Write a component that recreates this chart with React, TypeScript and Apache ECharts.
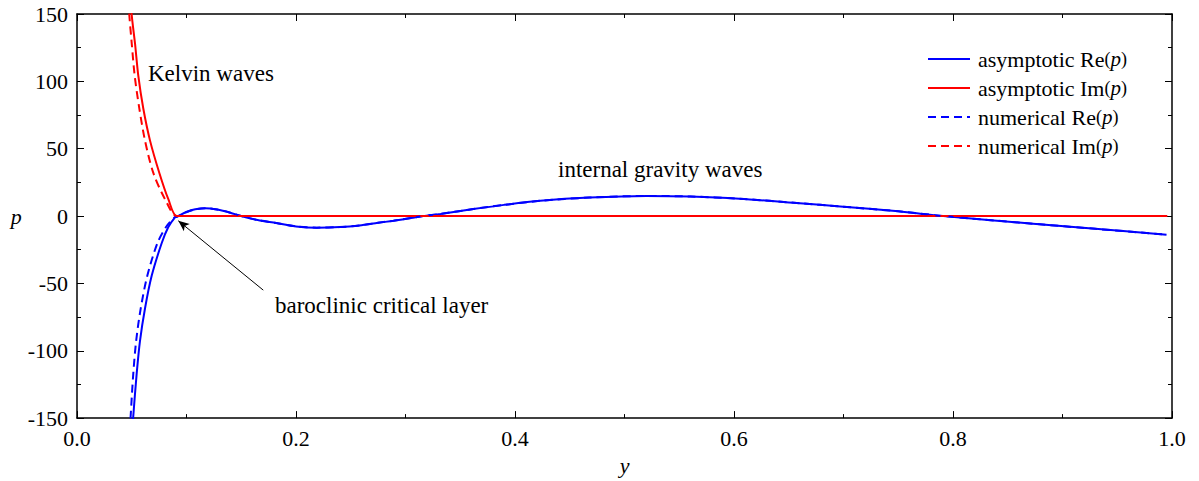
import React, { useEffect, useRef } from "react";
import * as echarts from "echarts";

const xTicks = [0, 0.2, 0.4, 0.6, 0.8, 1.0];
const yTicks = [-150, -100, -50, 0, 50, 100, 150];

// shared oscillating part of Re(p) (internal gravity waves)
const oscX = [0.091, 0.1, 0.108, 0.117, 0.128, 0.14, 0.15, 0.165, 0.182, 0.2, 0.219, 0.24, 0.258, 0.275, 0.289, 0.305, 0.316, 0.332, 0.362, 0.39, 0.423, 0.468, 0.52, 0.56, 0.605, 0.66, 0.697, 0.75, 0.791, 0.873, 0.93, 0.995];
const oscY = [-0.5, 3.0, 5.0, 5.8, 4.8, 2.5, 0, -3.0, -5.2, -7.7, -8.6, -8.2, -7.0, -5.0, -3.5, -1.5, 0, 1.6, 5.2, 8.3, 11.3, 13.7, 14.9, 14.5, 12.9, 9.5, 7.1, 3.5, 0, -5.7, -9.5, -13.8];

// asymptotic Re(p), steep part
const reAsymX = [0.0505, 0.0514, 0.0545, 0.0575, 0.0621, 0.0682, 0.0773, 0.0834, 0.0895];
const reAsymY = [-160, -148.5, -117, -92.8, -68.6, -44.4, -20.2, -8.1, -0.9];

// numerical Re(p), steep part
const reNumX = [0.0483, 0.049, 0.0514, 0.054, 0.0582, 0.0642, 0.0734, 0.0813, 0.089];
const reNumY = [-160, -148.5, -117, -92.8, -68.6, -44.4, -20.2, -8.1, -1.0];

// asymptotic Im(p)
const imAsymX = [0.0493, 0.05, 0.053, 0.056, 0.0605, 0.0667, 0.0752, 0.0834, 0.091, 0.1, 0.995];
const imAsymY = [160, 149, 128, 104, 80, 56, 32, 12.5, 0, 0, 0];

// numerical Im(p)
const imNumX = [0.047, 0.0477, 0.05, 0.0527, 0.0569, 0.0621, 0.0697, 0.0804, 0.091, 0.1, 0.995];
const imNumY = [160, 150, 128, 104, 80, 56, 32, 12.5, 0, 0, 0];

// annotation arrow (tail near label, head at the critical layer), data coordinates
const arrowFrom = [0.1701, -55];
const arrowTo = [0.0925, -3.5];

const seriesNames = ["asymptotic Re(p)", "asymptotic Im(p)", "numerical Re(p)", "numerical Im(p)"];

const zip = (xs: number[], ys: number[]) => xs.map((x, i) => [x, ys[i]]);

const FONT = "Liberation Serif";

export default function App() {
  const ref = useRef<HTMLDivElement>(null);
  useEffect(() => {
    if (!ref.current) return;
    const chart = echarts.init(ref.current, undefined, { renderer: "svg" });
    const axisCommon = {
      type: "value" as const,
      axisLine: { show: true, onZero: false, lineStyle: { color: "#000", width: 1.5 } },
      axisTick: { show: true, inside: true, length: 7, lineStyle: { color: "#000", width: 1 } },
      minorTick: { show: true, splitNumber: 2, length: 4, lineStyle: { color: "#000", width: 1 } },
      splitLine: { show: false },
    };
    const reData = (x: number[], y: number[]) => zip(x, y).concat(zip(oscX, oscY).slice(x[x.length - 1] < oscX[0] ? 0 : 1));
    const lineSeries = (name: string, data: number[][], color: string, dashed: boolean) => ({
      name,
      type: "line" as const,
      data,
      showSymbol: false,
      symbol: "none",
      smooth: 0.3,
      xAxisIndex: 0,
      yAxisIndex: 0,
      lineStyle: { color, width: 2, type: dashed ? [8, 5] : "solid" },
      itemStyle: { color },
    });
    const fmt = (name: string) => {
      const base = name.replace("(p)", "");
      return `{n|${base}}{s|(}{i|p}{s|)}`;
    };
    chart.setOption({
      animation: false,
      backgroundColor: "#fff",
      grid: { left: 77, right: 27, top: 14, bottom: 54, containLabel: false },
      xAxis: [
        {
          ...axisCommon,
          position: "bottom",
          min: 0,
          max: 1,
          interval: 0.2,
          name: "y",
          nameLocation: "middle",
          nameGap: 29,
          nameTextStyle: { fontFamily: FONT, fontSize: 22, fontStyle: "italic", color: "#000" },
          axisLabel: {
            show: true,
            margin: 9,
            fontFamily: FONT,
            fontSize: 22,
            color: "#000",
            formatter: (v: number) => (xTicks.includes(Math.round(v * 10) / 10) ? v.toFixed(1) : ""),
          },
        },
        {
          ...axisCommon,
          position: "top",
          min: 0,
          max: 1,
          interval: 0.2,
          axisLabel: { show: false },
        },
      ],
      yAxis: [
        {
          ...axisCommon,
          position: "left",
          min: -150,
          max: 150,
          interval: 50,
          name: "p",
          nameLocation: "middle",
          nameGap: 53,
          nameRotate: 0,
          nameTextStyle: { fontFamily: FONT, fontSize: 22, fontStyle: "italic", color: "#000" },
          axisLabel: {
            show: true,
            margin: 9,
            fontFamily: FONT,
            fontSize: 22,
            color: "#000",
            formatter: (v: number) => (yTicks.includes(v) ? String(v) : ""),
          },
        },
        {
          ...axisCommon,
          position: "right",
          min: -150,
          max: 150,
          interval: 50,
          axisLabel: { show: false },
        },
      ],
      legend: {
        show: true,
        orient: "vertical",
        left: 927,
        top: 48,
        padding: 0,
        itemWidth: 42,
        itemHeight: 20,
        itemGap: 7,
        data: seriesNames,
        formatter: fmt,
        itemStyle: { opacity: 0 },
        textStyle: {
          fontFamily: FONT,
          color: "#000",
          padding: [0, 0, 0, 3],
          rich: {
            n: { fontFamily: FONT, fontSize: 22, color: "#000", lineHeight: 20 },
            s: { fontFamily: FONT, fontSize: 18, color: "#000", lineHeight: 20 },
            i: { fontFamily: FONT, fontSize: 21, fontStyle: "italic", color: "#000", lineHeight: 20 },
          },
        },
      },
      graphic: [
        {
          type: "text",
          left: 148,
          top: 62,
          style: { text: "Kelvin waves", fontFamily: FONT, fontSize: 23, fill: "#000" },
        },
        {
          type: "text",
          left: 558,
          top: 158,
          style: { text: "internal gravity waves", fontFamily: FONT, fontSize: 23, fill: "#000" },
        },
        {
          type: "text",
          left: 275,
          top: 294,
          style: { text: "baroclinic critical layer", fontFamily: FONT, fontSize: 23, fill: "#000" },
        },
      ],
      series: [
        {
          ...lineSeries(seriesNames[0], reData(reAsymX, reAsymY), "#0000ff", false),
          markLine: {
            silent: true,
            symbol: ["none", "arrow"],
            symbolSize: [7, 11],
            label: { show: false },
            lineStyle: { color: "#000", width: 1, type: "solid" },
            data: [[{ coord: arrowFrom }, { coord: arrowTo }]],
          },
        },
        lineSeries(seriesNames[1], zip(imAsymX, imAsymY), "#ff0000", false),
        lineSeries(seriesNames[2], reData(reNumX, reNumY), "#0000ff", true),
        lineSeries(seriesNames[3], zip(imNumX, imNumY), "#ff0000", true),
      ],
    });
    return () => chart.dispose();
  }, []);
  return (
    <div
      ref={ref}
      style={{ position: "fixed", left: 0, top: 0, width: 1199, height: 481, background: "#fff" }}
    />
  );
}
